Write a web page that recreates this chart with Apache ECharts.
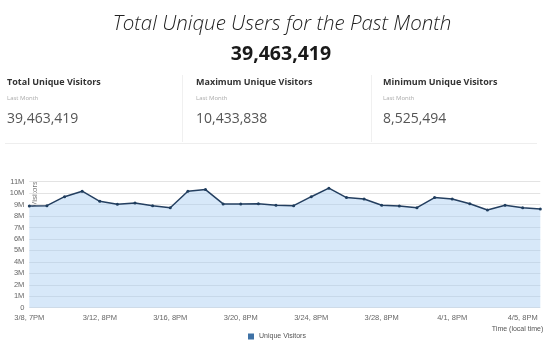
<!DOCTYPE html>
<html><head><meta charset="utf-8">
<script src="https://cdn.jsdelivr.net/npm/echarts@6/dist/echarts.min.js"></script>
<style>html,body{margin:0;padding:0;background:#fff;}#c{width:557px;height:348px;}</style>
</head><body><div id="c"></div>
<script>
const categories = ['3/8, 7PM','3/9, 8PM','3/10, 8PM','3/11, 8PM','3/12, 8PM','3/13, 8PM','3/14, 8PM','3/15, 8PM','3/16, 8PM','3/17, 8PM',
  '3/18, 8PM','3/19, 8PM','3/20, 8PM','3/21, 8PM','3/22, 8PM','3/23, 8PM','3/24, 8PM','3/25, 8PM','3/26, 8PM','3/27, 8PM',
  '3/28, 8PM','3/29, 8PM','3/30, 8PM','3/31, 8PM','4/1, 8PM','4/2, 8PM','4/3, 8PM','4/4, 8PM','4/5, 8PM','4/6, 8PM'];
const visitors = [8880000,8910000,9690000,10170000,9290000,9030000,9140000,8910000,8730000,10170000,
  10310000,9060000,9060000,9080000,8940000,8910000,9690000,10433838,9610000,9490000,
  8940000,8880000,8730000,9610000,9490000,9080000,8525494,8940000,8730000,8620000];
const yTickLabels = ['0','1M','2M','3M','4M','5M','6M','7M','8M','9M','10M','11M'];
const seriesName = 'Unique Visitors';
const pageTitle = 'Total Unique Users for the Past Month';
const totalText = '39,463,419';
const statHeadings = ['Total Unique Visitors','Maximum Unique Visitors','Minimum Unique Visitors'];
const statSub = 'Last Month';
const statValues = ['39,463,419','10,433,838','8,525,494'];
const xAxisName = 'Time (local time)';
const yAxisName = 'Visitors';

const OS = '"Open Sans", "Noto Sans", sans-serif';
const NAR = '"Liberation Sans Narrow", "Liberation Sans", sans-serif';
const statX = [7, 196, 383];

const titles = [
  {text: pageTitle, left: 277, top: 9, textAlign: 'center',
   textStyle:{fontFamily: OS, fontStyle:'italic', fontWeight: 300, fontSize: 20.5, color:'#222'}},
  {text: totalText, left: 276, top: 39, textAlign: 'center',
   textStyle:{fontFamily: OS, fontWeight: 'bold', fontSize: 19.5, color:'#1a1a1a'}}
];
statHeadings.forEach((h,i)=>{
  titles.push({text: h, left: statX[i], top: 78, padding:0,
    textStyle:{fontFamily: OS, fontWeight:'bold', fontSize: 9, color:'#333'}});
  titles.push({text: statSub, left: statX[i], top: 95, padding:0,
    textStyle:{fontFamily: OS, fontWeight:'normal', fontSize: 6, color:'#aaa'}});
  titles.push({text: statValues[i], left: statX[i], top: 112, padding:0,
    textStyle:{fontFamily: OS, fontWeight:'normal', fontSize: 14, color:'#555'}});
});

const chart = echarts.init(document.getElementById('c'), null, {renderer:'canvas'});
chart.setOption({
  animation: false,
  title: titles,
  graphic: [
    {type:'line', shape:{x1:182.5,y1:75,x2:182.5,y2:142}, style:{stroke:'#f0f0f0', lineWidth:1}},
    {type:'line', shape:{x1:371.5,y1:75,x2:371.5,y2:142}, style:{stroke:'#f0f0f0', lineWidth:1}},
    {type:'line', shape:{x1:5,y1:143.5,x2:537,y2:143.5}, style:{stroke:'#eeeeee', lineWidth:1}},
    {type:'text', x:35, y:194, rotation: Math.PI/2, style:{text: yAxisName, fontFamily: NAR, fontSize:8, fill:'#777', align:'center', verticalAlign:'middle'}}
  ],
  legend: {data:[{name: seriesName, itemStyle:{color:'#3f72a6'}}], left: 243, top: 328, icon:'rect', itemWidth:6, itemHeight:6, itemGap:5,
    textStyle:{fontFamily: NAR, fontSize:7, color:'#555'}},
  grid: {left: 29.3, right: 16.7, top: 181.7, bottom: 40.3},
  xAxis: {type:'category', data: categories, boundaryGap:false,
    name: xAxisName, nameLocation:'end', nameGap: 0,
    nameTextStyle:{fontFamily: NAR, fontSize:7, color:'#555', align:'right', verticalAlign:'top', padding:[18,-3,0,0]},
    axisLine:{show:false}, axisTick:{show:false},
    axisLabel:{interval:3, fontFamily: NAR, fontSize:7.5, color:'#666', margin:6}},
  yAxis: {type:'value', min:0, max:11000000, interval:1000000,
    axisLine:{show:false}, axisTick:{show:false},
    axisLabel:{fontFamily: NAR, fontSize:7.5, color:'#666', margin:5,
      formatter:(v)=> yTickLabels[Math.round(v/1000000)]},
    splitLine:{lineStyle:{color:'#e3e3e3', width:1}}},
  series: [{name: seriesName, type:'line', data: visitors,
    symbol:'circle', symbolSize:3, showSymbol:true,
    itemStyle:{color:'#1f3d5e'}, lineStyle:{color:'#243f60', width:1.5},
    areaStyle:{color:'rgba(160,200,240,0.6)', origin:'start'}}]
});
</script></body></html>
